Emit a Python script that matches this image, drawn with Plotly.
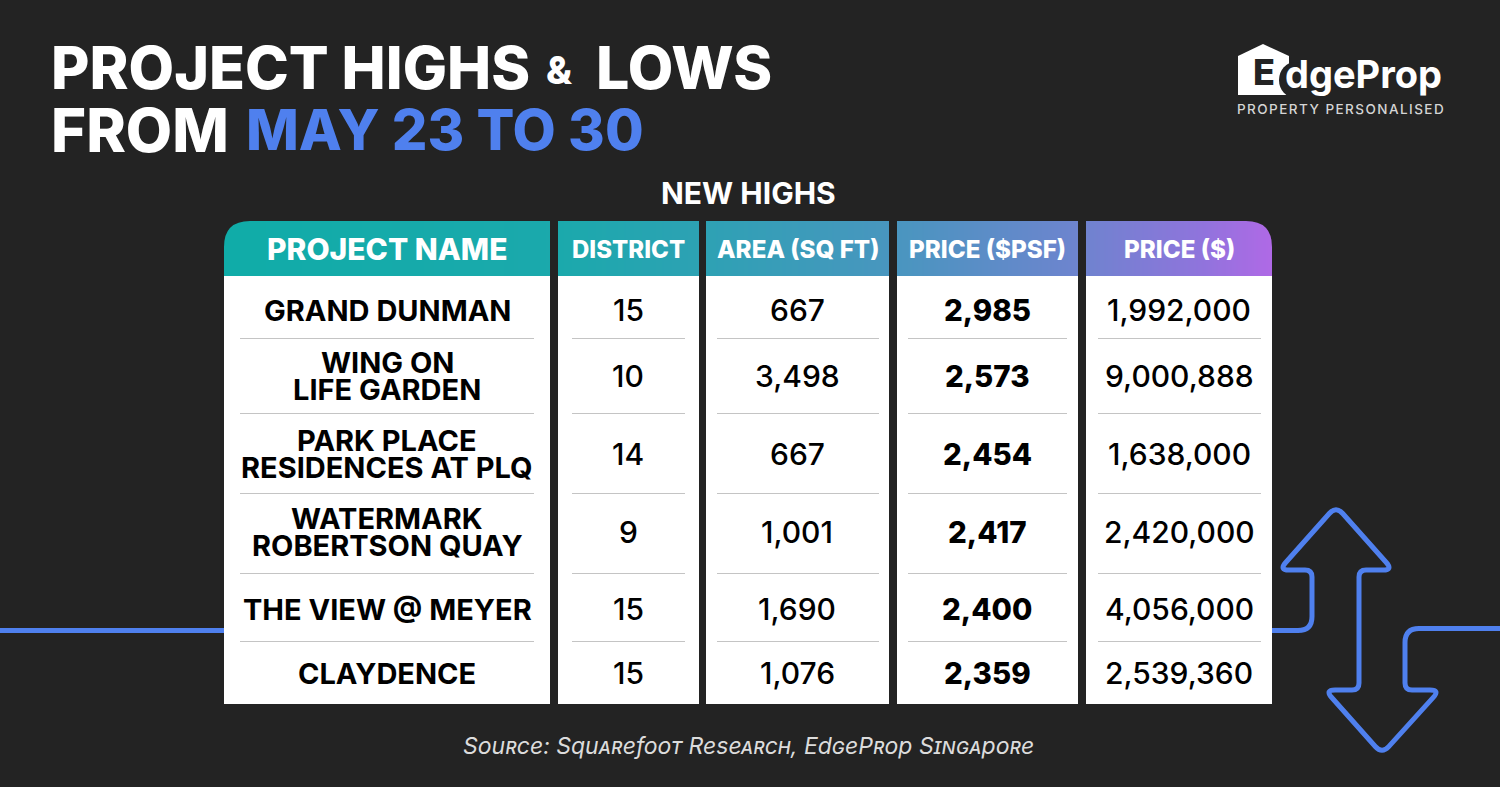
import numpy as np
import plotly.graph_objects as go

project_names = ["GRAND DUNMAN", "WING ON<br>LIFE GARDEN", "PARK PLACE<br>RESIDENCES AT PLQ",
                 "WATERMARK<br>ROBERTSON QUAY", "THE VIEW @ MEYER", "CLAYDENCE"]
districts = ["15", "10", "14", "9", "15", "15"]
areas = ["667", "3,498", "667", "1,001", "1,690", "1,076"]
psf_prices = ["2,985", "2,573", "2,454", "2,417", "2,400", "2,359"]
prices = ["1,992,000", "9,000,888", "1,638,000", "2,420,000", "4,056,000", "2,539,360"]
headers = ["PROJECT NAME", "DISTRICT", "AREA (SQ FT)", "PRICE ($PSF)", "PRICE ($)"]

BG = "#232323"
BLUE = "#4f80ee"
FONT = "Inter"

# layout of the table, in image pixels
col_edges = [(224, 550), (558, 699), (706, 889), (897, 1078), (1086, 1272)]
sep_edges = [(240, 534), (572, 685), (717, 879), (908, 1067), (1098, 1261)]
row_centers = [310, 376, 454, 532, 609, 673]
row_lines = [338, 413, 493, 573, 641]
head_top, head_bottom, body_bottom = 221, 276, 704

fig = go.Figure()


def text(x, y, s, size, color="#000000", weight=700, anchor="center", **font):
    fig.add_annotation(x=x, y=y, text=s, showarrow=False, xanchor=anchor, yanchor="middle",
                       xref="x", yref="y", align="center",
                       font=dict(family=FONT, size=size, color=color, weight=weight, **font))


def rounded(points, r):
    # svg path through the points with the corners rounded off
    p = np.array(points, dtype=float)
    d = f"M{p[0][0]},{p[0][1]}"
    for i in range(1, len(p) - 1):
        rad = r[i - 1]
        a = p[i] + (p[i - 1] - p[i]) / np.linalg.norm(p[i - 1] - p[i]) * rad
        b = p[i] + (p[i + 1] - p[i]) / np.linalg.norm(p[i + 1] - p[i]) * rad
        d += f" L{a[0]:.1f},{a[1]:.1f} Q{p[i][0]},{p[i][1]} {b[0]:.1f},{b[1]:.1f}"
    return d + f" L{p[-1][0]},{p[-1][1]}"


# header gradient
grad_x = np.arange(224, 1272, 2)
fig.add_trace(go.Heatmap(
    x0=225, dx=2, y0=248.5, dy=55, z=[grad_x.tolist()], showscale=False, hoverinfo="skip",
    zmin=224, zmax=1272,
    colorscale=[[0, "#10aca8"], [0.32, "#1ba9ac"], [0.46, "#2ea1b4"], [0.65, "#4b95c0"],
                [0.82, "#6f83cf"], [0.93, "#8f74dc"], [1, "#b069e6"]],
))

shapes = []
# gaps between the header cells
for (a, b), (c, d) in zip(col_edges[:-1], col_edges[1:]):
    shapes.append(dict(type="rect", x0=b, x1=c, y0=head_top - 1, y1=head_bottom + 1,
                       fillcolor=BG, line_width=0, layer="above"))
# rounded outer corners
r = 26
shapes.append(dict(type="path", path=f"M223,220 L{224 + r},220 L{224 + r},{head_top} Q224,{head_top} 224,{head_top + r} L223,{head_top + r} Z",
                   fillcolor=BG, line_width=0))
shapes.append(dict(type="path", path=f"M1274,220 L{1272 - r},220 L{1272 - r},{head_top} Q1272,{head_top} 1272,{head_top + r} L1274,{head_top + r} Z",
                   fillcolor=BG, line_width=0))
# white cells and separators
for (a, b), (s0, s1) in zip(col_edges, sep_edges):
    shapes.append(dict(type="rect", x0=a, x1=b, y0=head_bottom, y1=body_bottom, fillcolor="#ffffff", line_width=0))
    for y in row_lines:
        shapes.append(dict(type="line", x0=s0, x1=s1, y0=y + 0.5, y1=y + 0.5, line=dict(color="#c4c4c4", width=1)))

# arrows
shapes.append(dict(type="line", x0=0, x1=224, y0=630.5, y1=630.5, line=dict(color=BLUE, width=5)))
arrow = [(1272, 630.5), (1312, 630.5), (1312, 570), (1279, 570), (1336, 506), (1393, 570), (1359, 570),
         (1359, 690), (1325, 690), (1382, 754), (1440, 690), (1405, 690), (1405, 628.5), (1500, 628.5)]
radii = [14, 7, 10, 10, 10, 7, 7, 10, 10, 10, 7, 14]
shapes.append(dict(type="path", path=rounded(arrow, radii), line=dict(color=BLUE, width=5)))

# logo house
shapes.append(dict(type="path", path="M1238,95 L1238,56 L1263,44 L1289,56 L1289,95 Z", fillcolor="#ffffff", line_width=0))
shapes.append(dict(type="circle", x0=1279, x1=1312, y0=62, y1=98, fillcolor=BG, line_width=0))
shapes.append(dict(type="rect", x0=1238, x1=1320, y0=96, y1=100, fillcolor=BG, line_width=0))

fig.update_layout(shapes=shapes)

# title
text(49, 67, "PROJECT HIGHS", 59, "#ffffff", 800, "left")
text(544, 70, "&", 38, "#ffffff", 800, "left")
text(594, 67, "LOWS", 59, "#ffffff", 800, "left")
text(49, 130, "FROM", 60, "#ffffff", 800, "left")
text(244, 130, "MAY 23 TO 30", 56, BLUE, 800, "left")

# logo text
text(1264, 72, "E", 36, BG, 800)
text(1283, 74, "dgeProp", 38, "#ffffff", 700, "left")
text(1341, 109, '<span style="letter-spacing:1.45px">PROPERTY PERSONALISED</span>', 13.5, "#d5d5d5", 500)

text(748.5, 193, "NEW HIGHS", 30, "#ffffff", 700)

# table text
header_sizes = [30, 24, 24.2, 24.2, 24.2]
for (a, b), h, size in zip(col_edges, headers, header_sizes):
    text((a + b) / 2, 249, h, size, "#ffffff", 800)

for i, y in enumerate(row_centers):
    lines = project_names[i].split("<br>")
    if len(lines) == 1:
        text(387, y, lines[0], 29, "#000000", 700)
    else:
        text(387, y - 14, lines[0], 29, "#000000", 700)
        text(387, y + 13, lines[1], 29, "#000000", 700)
    text(628, y, districts[i], 30, "#000000", 500)
    text(797, y, areas[i], 30, "#000000", 500)
    text(987, y, psf_prices[i], 29.5, "#000000", 800)
    text(1179, y, prices[i], 30, "#000000", 500)

text(748, 746, "Source: Squarefoot Research, EdgeProp Singapore", 23, "#dcdcdc", 400, style="italic", variant="small-caps")

fig.update_xaxes(range=[0, 1500], visible=False, fixedrange=True)
fig.update_yaxes(range=[787, 0], visible=False, fixedrange=True)
fig.update_layout(width=1500, height=787, autosize=False, margin=dict(l=0, r=0, t=0, b=0),
                  paper_bgcolor=BG, plot_bgcolor=BG, showlegend=False)

fig.write_html("out.html", config=dict(displayModeBar=False),
               post_script="document.body.style.margin='0';document.body.style.background='#232323';")
